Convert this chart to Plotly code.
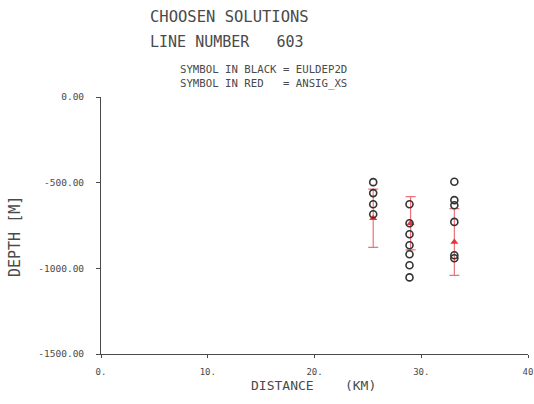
import plotly.graph_objects as go

# Black symbols (EULDEP2D)
black_x = [25.5, 25.5, 25.5, 25.5,
           28.9, 28.9, 28.9, 28.9, 28.9, 28.9, 28.9,
           33.1, 33.1, 33.1, 33.1, 33.1, 33.1]
black_y = [-497, -561, -626, -684,
           -626, -737, -801, -865, -918, -982, -1053,
           -495, -602, -632, -729, -924, -941]

# Red symbols (ANSIG_XS) with error bars
red_x = [25.5, 29.0, 33.1]
red_y = [-708, -737, -846]
red_err = [170, 155, 195]

x_ticks = [0, 10, 20, 30, 40]
x_ticktext = ["0.", "10.", "20.", "30.", "40"]
y_ticks = [0, -500, -1000, -1500]
y_ticktext = ["0.00", "-500.00", "-1000.00", "-1500.00"]

GRAY = "#4a4a4a"
MONO = "DejaVu Sans Mono"

fig = go.Figure()
fig.add_trace(go.Scatter(
    x=red_x, y=red_y, mode="markers",
    marker=dict(symbol="triangle-up", size=7, color="#e8333a"),
    error_y=dict(type="data", array=red_err, visible=True,
                 color="#f07078", thickness=1.2, width=5),
    showlegend=False))
fig.add_trace(go.Scatter(
    x=black_x, y=black_y, mode="markers",
    marker=dict(symbol="circle-open", size=7, color="#333333",
                line=dict(width=1.6, color="#333333")),
    showlegend=False))

fig.update_layout(
    width=534, height=404,
    margin=dict(l=101, r=6, t=97, b=50),
    paper_bgcolor="white", plot_bgcolor="white",
    font=dict(family=MONO, color=GRAY),
    xaxis=dict(range=[0, 40], tickvals=x_ticks, ticktext=x_ticktext,
               showgrid=False, zeroline=False, showline=True,
               linecolor=GRAY, linewidth=1, ticks="outside", ticklen=3,
               tickcolor=GRAY, tickfont=dict(size=9, family=MONO, color=GRAY),
               ticklabelstandoff=6, ticklabeloverflow="allow",
               automargin=False),
    yaxis=dict(range=[-1500, 0], tickvals=y_ticks, ticktext=y_ticktext,
               showgrid=False, zeroline=False, showline=True,
               linecolor=GRAY, linewidth=1, ticks="outside", ticklen=4,
               tickcolor=GRAY, tickfont=dict(size=9.5, family=MONO, color=GRAY),
               ticklabelstandoff=10, automargin=False),
)

annots = [
    dict(text="CHOOSEN SOLUTIONS", x=148, y=17, size=15.5),
    dict(text="LINE NUMBER   603", x=148, y=42, size=15),
    dict(text="SYMBOL IN BLACK = EULDEP2D", x=178, y=70, size=10.7),
    dict(text="SYMBOL IN RED   = ANSIG_XS", x=178, y=84, size=10.7),
]
for a in annots:
    fig.add_annotation(text=a["text"], xref="paper", yref="paper",
                       x=(a["x"] - 101) / 427, y=(354 - a["y"]) / 257,
                       xanchor="left", yanchor="middle", showarrow=False,
                       font=dict(size=a["size"], family=MONO, color=GRAY))

fig.add_annotation(text="DISTANCE    (KM)", xref="paper", yref="paper",
                   x=(249 - 101) / 427, y=(354 - 385) / 257,
                   xanchor="left", yanchor="middle", showarrow=False,
                   font=dict(size=13, family=MONO, color=GRAY))
fig.add_annotation(text="DEPTH [M]", xref="paper", yref="paper",
                   x=(15 - 101) / 427, y=(354 - 237) / 257,
                   xanchor="center", yanchor="middle", showarrow=False,
                   textangle=-90,
                   font=dict(size=15, family=MONO, color=GRAY))

fig.write_html("out.html", config={"displayModeBar": False},
               post_script="document.body.style.margin='0';document.body.style.overflow='hidden';")
